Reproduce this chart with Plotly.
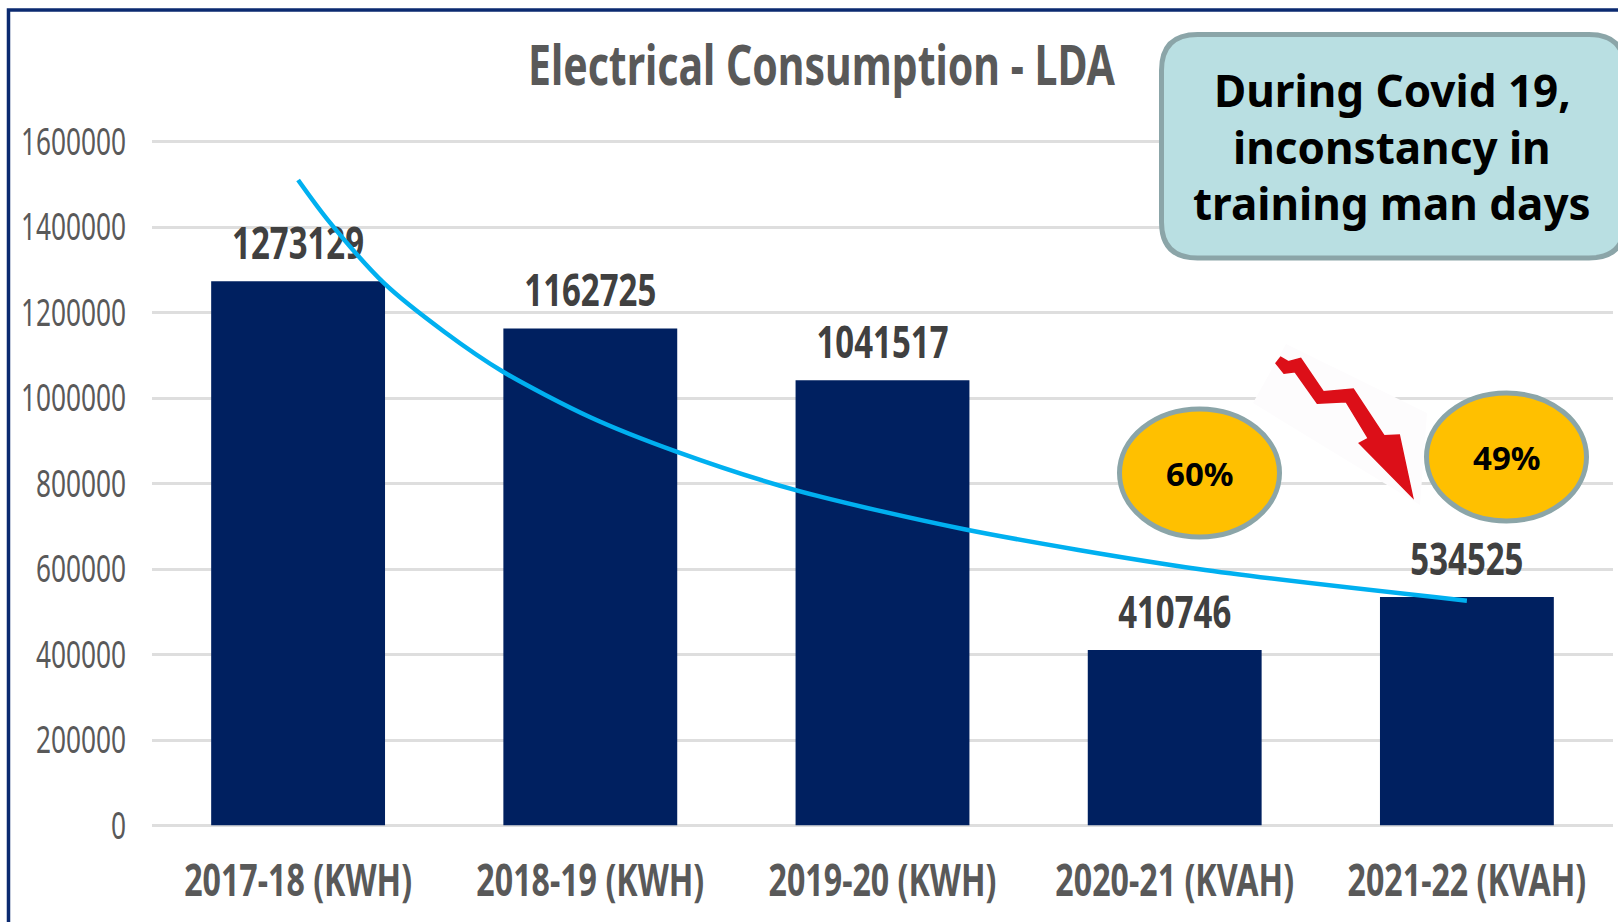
import plotly.graph_objects as go

W, H = 1618, 922
categories = ["2017-18 (KWH)", "2018-19 (KWH)", "2019-20 (KWH)", "2020-21 (KVAH)", "2021-22 (KVAH)"]
category_pos = [1, 2, 3, 4, 5]
consumption = [1273129, 1162725, 1041517, 410746, 534525]
trend_x = [1, 1.1, 1.295, 1.5, 1.7, 2.0, 2.297, 2.7, 3.28, 4.08, 5]
trend_y = [1510000, 1418000, 1268000, 1155000, 1062000, 955000, 874000, 785000, 693000, 600000, 526000]
y_ticks = [0, 200000, 400000, 600000, 800000, 1000000, 1200000, 1400000, 1600000]
title = "Electrical Consumption - LDA"
callout_lines = ["During Covid 19,", "inconstancy in", "training man days"]
badge_labels = ["60%", "49%"]

SANS = "Noto Sans"
NAVY = "#002060"
GREY = "#595959"
label_pad = 78000


def px(x):
    return x / W


def py(y):
    return 1 - y / H


def path(points, close=True):
    s = "M " + " L ".join(f"{px(x):.5f},{py(y):.5f}" for x, y in points)
    return s + (" Z" if close else "")


fig = go.Figure()
fig.add_bar(x=category_pos, y=consumption, width=0.595, marker=dict(color=NAVY, line=dict(width=0)), hoverinfo="skip")
fig.add_scatter(
    x=category_pos, y=[v + label_pad for v in consumption], mode="text",
    text=[str(v) for v in consumption], textposition="middle center",
    textfont=dict(family=SANS, size=44, color="#404040", weight="bold"), hoverinfo="skip", cliponaxis=False,
)
fig.add_scatter(
    x=trend_x, y=trend_y, mode="lines", line=dict(color="#00B0F0", width=4.5, shape="spline", smoothing=0.8),
    hoverinfo="skip",
)

shapes = []
# outer frame
shapes.append(dict(type="path", xref="paper", yref="paper", path=path([(8.5, H + 5), (8.5, 10), (W + 5, 10)], False),
                   line=dict(color="#0B2A70", width=3.5), layer="above"))
# callout
x0, y0, x1, y1, r = 1161.5, 34.5, 1625, 258, 36
callout = (f"M {px(x0 + r):.5f},{py(y0):.5f} L {px(x1 - r):.5f},{py(y0):.5f} "
           f"Q {px(x1):.5f},{py(y0):.5f} {px(x1):.5f},{py(y0 + r):.5f} L {px(x1):.5f},{py(y1 - r):.5f} "
           f"Q {px(x1):.5f},{py(y1):.5f} {px(x1 - r):.5f},{py(y1):.5f} L {px(x0 + r):.5f},{py(y1):.5f} "
           f"Q {px(x0):.5f},{py(y1):.5f} {px(x0):.5f},{py(y1 - r):.5f} L {px(x0):.5f},{py(y0 + r):.5f} "
           f"Q {px(x0):.5f},{py(y0):.5f} {px(x0 + r):.5f},{py(y0):.5f} Z")
shapes.append(dict(type="path", xref="paper", yref="paper", path=callout, fillcolor="#B9DFE2",
                   line=dict(color="#8BA5A8", width=5), layer="above"))
# arrow picture background and arrow
shapes.append(dict(type="path", xref="paper", yref="paper",
                   path=path([(1286, 344), (1427, 413), (1420, 505), (1253, 403)]),
                   fillcolor="#FDFCFD", line=dict(width=0), layer="above"))
arrow = [(1276, 363.3), (1280.7, 357.3), (1288.3, 361.7), (1300.7, 358.3), (1323.3, 391.7), (1353.3, 389),
         (1384, 435.7), (1399.3, 435), (1412.7, 497.3), (1359.3, 443.3), (1368.3, 438.3), (1346, 401.7),
         (1317.3, 403.3), (1295, 371.7), (1284, 373.3)]
shapes.append(dict(type="path", xref="paper", yref="paper", path=path(arrow), fillcolor="#DC0F18",
                   line=dict(width=1.5, color="#DC0F18"), layer="above"))
# badges
badge_boxes = [(1199.5, 473), (1506.5, 457)]
for cx, cy in badge_boxes:
    shapes.append(dict(type="circle", xref="paper", yref="paper", x0=px(cx - 80), x1=px(cx + 80),
                       y0=py(cy + 64), y1=py(cy - 64), fillcolor="#FFC000",
                       line=dict(color="#8BA5A8", width=5), layer="above"))

annotations = []
for line, y in zip(callout_lines, [89.5, 146.5, 203.5]):
    annotations.append(dict(text=line, xref="paper", yref="paper", x=px(1392), y=py(y), showarrow=False,
                            xanchor="center", yanchor="middle", font=dict(family=SANS, size=44, color="#000000", weight="bold")))
for label, (cx, cy) in zip(badge_labels, badge_boxes):
    annotations.append(dict(text=label, xref="paper", yref="paper", x=px(cx), y=py(cy), showarrow=False,
                            xanchor="center", yanchor="middle", font=dict(family=SANS, size=33, color="#000000", weight="bold")))

fig.update_layout(
    width=W, height=H, margin=dict(l=0, r=0, t=0, b=0, autoexpand=False), paper_bgcolor="white", plot_bgcolor="white",
    showlegend=False, hovermode=False, shapes=shapes, annotations=annotations,
    title=dict(text=title, x=px(821.5), y=py(65), xanchor="center", yanchor="middle",
               font=dict(family=SANS, size=56, color=GREY, weight="bold")),
    xaxis=dict(domain=[px(152), px(1613)], range=[0.5, 5.5], tickmode="array", tickvals=category_pos, ticktext=categories,
               showgrid=False, zeroline=False, showline=False, ticks="", ticklabelstandoff=26, tickangle=0,
               ticklabeloverflow="allow",
               tickfont=dict(family=SANS, size=44, color=GREY, weight="bold")),
    # the range runs 2 px past the top tick so that its gridline is kept
    yaxis=dict(domain=[py(825.5), py(139.5)], range=[0, 1604680], tickmode="array", tickvals=y_ticks,
               ticktext=[str(v) for v in y_ticks], showgrid=True, gridcolor="#DEDEDE", gridwidth=2.5,
               zeroline=True, zerolinecolor="#DEDEDE", zerolinewidth=2.5, ticks="", ticklabelstandoff=25,
               tickfont=dict(family=SANS, size=38, color=GREY)),
)

# The reference uses tall condensed lettering: squeeze the real text horizontally to the measured widths.
squeeze = """
document.body.style.margin='0';document.body.style.overflow='hidden';
function sq(sel, width, sample){
  var els=[].slice.call(document.querySelectorAll(sel));
  if(!els.length) return;
  var base=els[sample||0].getComputedTextLength();
  var f=width/base;
  els.forEach(function(t){
    t.setAttribute('textLength', t.getComputedTextLength()*f);
    t.setAttribute('lengthAdjust','spacingAndGlyphs');
  });
}
function sx(t,f){
  var x=parseFloat(t.getAttribute('x'))||0, old=t.getAttribute('transform')||'';
  t.setAttribute('transform',old+' translate('+(x*(1-f))+',0) scale('+f+',1)');
}
sq('.ytick text',105,8);
sq('.textpoint text',132);
var xt=[].slice.call(document.querySelectorAll('.xtick text'));
if(xt.length){
  var fx=228/xt[0].getComputedTextLength();
  xt.forEach(function(t){sx(t,fx);});
}
var tt=document.querySelector('.gtitle');
if(tt){ sx(tt,587/tt.getComputedTextLength()); }
"""
fig.write_html("out.html", config=dict(displayModeBar=False), post_script=squeeze)
